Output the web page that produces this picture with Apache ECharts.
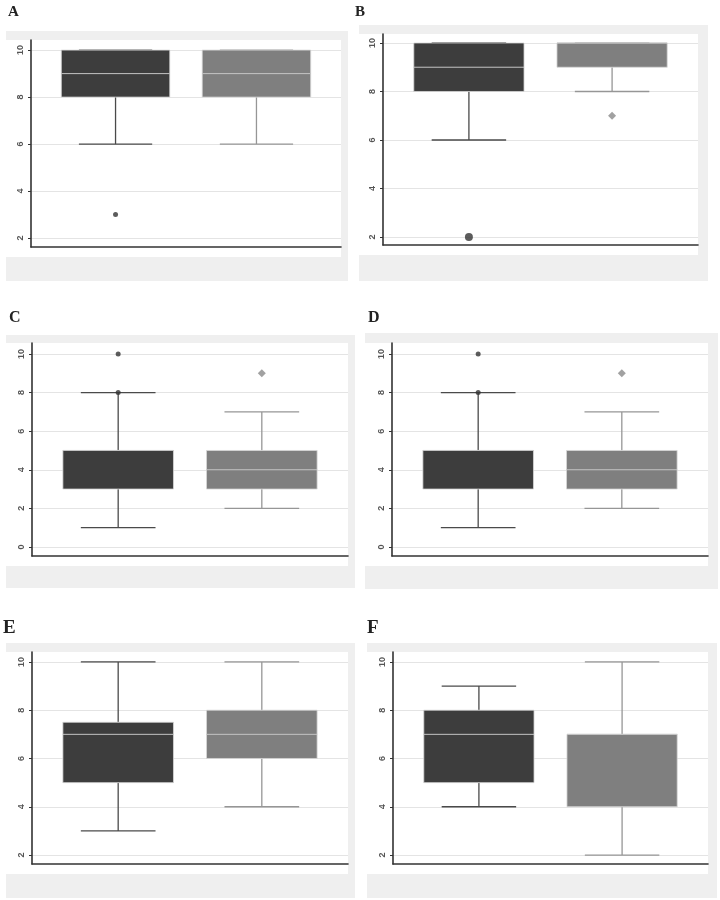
<!DOCTYPE html>
<html>
<head>
<meta charset="utf-8">
<script src="https://cdn.jsdelivr.net/npm/echarts@6/dist/echarts.min.js"></script>
<style>
  html, body { margin: 0; padding: 0; background: #fff; }
  #chart { width: 720px; height: 900px; }
</style>
</head>
<body>
<div id="chart"></div>
<script>
// box stats per panel: [min, q1, median, q3, max] for the dark and the light group
const panelNames = ["A", "B", "C", "D", "E", "F"];
const darkBoxes = [
  [6, 8, 9, 10, 10],
  [6, 8, 9, 10, 10],
  [1, 3, 5, 5, 8],
  [1, 3, 5, 5, 8],
  [3, 5, 7, 7.5, 10],
  [4, 5, 7, 8, 9],
];
const lightBoxes = [
  [6, 8, 9, 10, 10],
  [8, 9, 10, 10, 10],
  [2, 3, 4, 5, 7],
  [2, 3, 4, 5, 7],
  [4, 6, 7, 8, 10],
  [2, 4, 7, 7, 10],
];
const darkOutliers = [[3], [2], [8, 10], [8, 10], [], []];
const lightOutliers = [[], [7], [9], [9], [], []];
const yTicks = [
  [2, 4, 6, 8, 10],
  [2, 4, 6, 8, 10],
  [0, 2, 4, 6, 8, 10],
  [0, 2, 4, 6, 8, 10],
  [2, 4, 6, 8, 10],
  [2, 4, 6, 8, 10],
];
const yRanges = [
  [1.62, 10.43],
  [1.67, 10.37],
  [-0.47, 10.57],
  [-0.47, 10.57],
  [1.63, 10.41],
  [1.63, 10.41],
];

// layout (pixels)
const grids = [
  { left: 31, top: 40, width: 310, height: 207 },
  { left: 383, top: 34, width: 315, height: 211 },
  { left: 32, top: 343, width: 316, height: 213 },
  { left: 392, top: 343, width: 316, height: 213 },
  { left: 32, top: 652, width: 316, height: 212 },
  { left: 393, top: 652, width: 315, height: 212 },
];
const panels = [
  { x: 6, y: 31, w: 342, h: 250 },
  { x: 359, y: 25, w: 349, h: 256 },
  { x: 6, y: 335, w: 349, h: 253 },
  { x: 365, y: 333, w: 353, h: 256 },
  { x: 6, y: 643, w: 349, h: 255 },
  { x: 367, y: 643, w: 350, h: 255 },
];
const letterPos = [
  { x: 8, y: 5, size: 15 },
  { x: 355, y: 5, size: 15 },
  { x: 9, y: 310, size: 16 },
  { x: 368, y: 310, size: 16 },
  { x: 3, y: 619, size: 19 },
  { x: 367, y: 619, size: 19 },
];

const boxColors = ["#3d3d3d", "#7f7f7f"];
const whiskerColors = ["#4a4a4a", "#969696"];
const BOX_W = 0.77;
const CAP_W = 0.52;

const renderBox = (params, api) => {
  const x = api.value(0);
  const idx = params.dataIndex;
  const half = api.size([BOX_W, 0])[0] / 2;
  const capHalf = api.size([CAP_W, 0])[0] / 2;
  const pMin = api.coord([x, api.value(1)]);
  const pQ1 = api.coord([x, api.value(2)]);
  const pMed = api.coord([x, api.value(3)]);
  const pQ3 = api.coord([x, api.value(4)]);
  const pMax = api.coord([x, api.value(5)]);
  const wStyle = { stroke: whiskerColors[idx], lineWidth: 1.3 };
  const cx = pMin[0];
  return {
    type: "group",
    children: [
      { type: "line", shape: { x1: cx, y1: pQ1[1], x2: cx, y2: pMin[1] }, style: wStyle },
      { type: "line", shape: { x1: cx, y1: pQ3[1], x2: cx, y2: pMax[1] }, style: wStyle },
      { type: "line", shape: { x1: cx - capHalf, y1: pMin[1], x2: cx + capHalf, y2: pMin[1] }, style: wStyle },
      { type: "line", shape: { x1: cx - capHalf, y1: pMax[1], x2: cx + capHalf, y2: pMax[1] }, style: wStyle },
      {
        type: "rect",
        shape: { x: cx - half, y: pQ3[1], width: half * 2, height: pQ1[1] - pQ3[1] },
        style: { fill: boxColors[idx], stroke: "#d8d8d8", lineWidth: 0.8 },
      },
      {
        type: "line",
        shape: { x1: cx - half, y1: pMed[1], x2: cx + half, y2: pMed[1] },
        style: { stroke: "#c4c4c4", lineWidth: 1 },
      },
    ],
  };
};

const option = {
  animation: false,
  backgroundColor: "#fff",
  graphic: [],
  grid: grids.map((g) => ({ ...g, containLabel: false })),
  xAxis: [],
  yAxis: [],
  series: [],
};

panelNames.forEach((name, i) => {
  const p = panels[i];
  const g = grids[i];
  option.graphic.push(
    { type: "rect", z: -20, shape: { x: p.x, y: p.y, width: p.w, height: p.h }, style: { fill: "#efefef" } },
    {
      type: "rect",
      z: -19,
      shape: { x: p.x, y: g.top, width: g.left + g.width - p.x, height: g.height + 10 },
      style: { fill: "#fff" },
    },
    {
      type: "text",
      z: 10,
      x: letterPos[i].x,
      y: letterPos[i].y,
      style: {
        text: name,
        fill: "#222",
        font: `bold ${letterPos[i].size}px "Liberation Serif", serif`,
      },
    }
  );

  option.xAxis.push({
    gridIndex: i,
    type: "value",
    min: 0.4,
    max: 2.6,
    axisLine: { show: true, onZero: false, lineStyle: { color: "#333", width: 1.6 } },
    axisTick: { show: false },
    axisLabel: { show: false },
    splitLine: { show: false },
  });

  option.yAxis.push({
    gridIndex: i,
    type: "value",
    min: yRanges[i][0],
    max: yRanges[i][1],
    axisLine: { show: true, onZero: false, lineStyle: { color: "#333", width: 1.6 } },
    axisTick: { show: true, length: 3, customValues: yTicks[i], lineStyle: { color: "#333" } },
    axisLabel: {
      customValues: yTicks[i],
      rotate: 90,
      fontSize: 9,
      fontWeight: "bold",
      color: "#555",
      margin: 6,
    },
    splitLine: { show: true, lineStyle: { color: "#e4e4e4", width: 1 } },
  });

  option.series.push(
    {
      type: "custom",
      xAxisIndex: i,
      yAxisIndex: i,
      renderItem: renderBox,
      encode: { x: 0, y: [1, 2, 3, 4, 5] },
      data: [
        [1, ...darkBoxes[i]],
        [2, ...lightBoxes[i]],
      ],
      z: 3,
    },
    {
      type: "scatter",
      xAxisIndex: i,
      yAxisIndex: i,
      symbol: "circle",
      symbolSize: i === 1 ? 8 : 5,
      itemStyle: { color: "#333" },
      data: darkOutliers[i].map((v) => [1, v]),
      z: 4,
    },
    {
      type: "scatter",
      xAxisIndex: i,
      yAxisIndex: i,
      symbol: "diamond",
      symbolSize: 8,
      itemStyle: { color: "#8a8a8a" },
      data: lightOutliers[i].map((v) => [2, v]),
      z: 4,
    }
  );
});

const chart = echarts.init(document.getElementById("chart"));
chart.setOption(option);
window.addEventListener("resize", () => chart.resize());
</script>
</body>
</html>
